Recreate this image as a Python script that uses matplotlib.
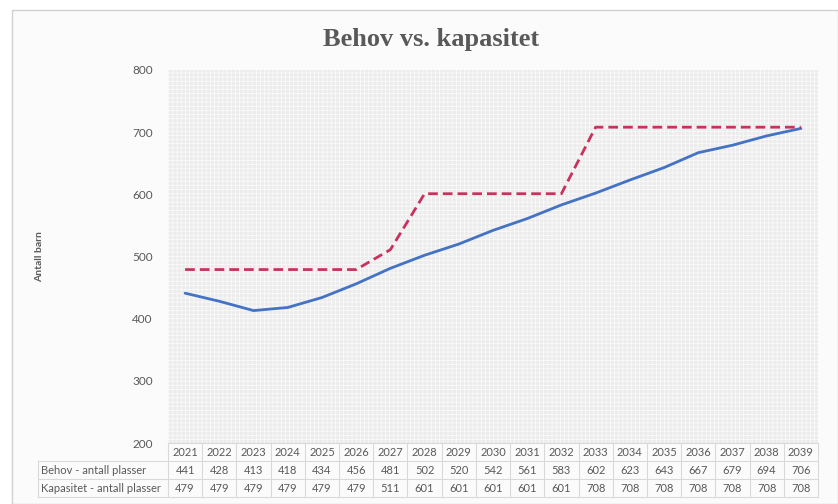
import matplotlib.pyplot as plt
from matplotlib.patches import Rectangle
from matplotlib.lines import Line2D

years = list(range(2021, 2040))
behov = [441, 428, 413, 418, 434, 456, 481, 502, 520, 542, 561, 583, 602, 623, 643, 667, 679, 694, 706]
kapasitet = [479, 479, 479, 479, 479, 479, 511, 601, 601, 601, 601, 601, 708, 708, 708, 708, 708, 708, 708]
row_labels = ["Behov - antall plasser", "Kapasitet - antall plasser"]

TXT = "#595959"
GRID = "#d9d9d9"
plt.rcParams["font.family"] = ["Lato", "DejaVu Sans"]
plt.rcParams["hatch.color"] = "white"
plt.rcParams["hatch.linewidth"] = 0.5

W, H = 838, 504
fig = plt.figure(figsize=(W / 100, H / 100), dpi=100)
fig.patch.set_facecolor("white")

# chart area border
fig.patches.append(Rectangle((12 / W, 0), (W - 12) / W, (H - 10) / H, transform=fig.transFigure,
                             facecolor="#fbfbfb", edgecolor="#d0d0d0", lw=1, zorder=-10))

# plot area in pixels
L, R, T, B = 168, 818, 70, 443
ax = fig.add_axes([L / W, (H - B) / H, (R - L) / W, (B - T) / H])
ax.set_facecolor("#ececec")
ax.add_patch(Rectangle((0, 0), 1, 1, transform=ax.transAxes, facecolor="none",
                       edgecolor="white", hatch="++++", lw=0, alpha=0.8, zorder=0))

x = list(range(len(years)))
ax.plot(x, behov, color="#4472c4", lw=2, zorder=3, solid_capstyle="round")
ax.plot(x, kapasitet, color="#c9325c", lw=2, ls=(0, (3.5, 1.8)), zorder=3)

ax.set_xlim(-0.5, len(years) - 0.5)
ax.set_ylim(200, 800)
ax.set_yticks(range(200, 801, 100))
ax.set_xticks([])
ax.tick_params(axis="y", length=0, labelsize=8.5, colors=TXT, pad=11)
for s in ax.spines.values():
    s.set_visible(False)

ax.set_ylabel("Antall barn", fontsize=7.5, fontweight="bold", color=TXT)
ax.yaxis.set_label_coords((44 - L) / (R - L), 0.5)
fig.text(431 / W, 1 - 40 / H, "Behov vs. kapasitet", ha="center", va="center",
         fontsize=19, fontweight="bold", color=TXT, family=["Liberation Serif", "DejaVu Serif"])

# data table below the plot
rh = 18 / (B - T)          # row height in axes units
lab_x0 = (38 - L) / (R - L)  # left of row label column in axes units
xt = ax.get_xaxis_transform()
rows = [[str(y) for y in years], [str(v) for v in behov], [str(v) for v in kapasitet]]

# horizontal lines
for k in range(4):
    yy = -k * rh
    if k == 0:
        ax.add_line(Line2D([-0.5, len(years) - 0.5], [yy, yy], transform=xt, color=GRID, lw=0.8, clip_on=False))
    else:
        ax.add_line(Line2D([lab_x0, 1], [yy, yy], transform=ax.transAxes, color=GRID, lw=0.8, clip_on=False))
# vertical lines
for i in range(len(years) + 1):
    ax.add_line(Line2D([i - 0.5, i - 0.5], [0, -3 * rh], transform=xt, color=GRID, lw=0.8, clip_on=False))
ax.add_line(Line2D([lab_x0, lab_x0], [-rh, -3 * rh], transform=ax.transAxes, color=GRID, lw=0.8, clip_on=False))

for r, vals in enumerate(rows):
    yc = -(r + 0.5) * rh
    for i, v in enumerate(vals):
        ax.text(i, yc, v, transform=xt, ha="center", va="center", fontsize=8, color=TXT, clip_on=False)
for r, lab in enumerate(row_labels):
    yc = -(r + 1.5) * rh
    ax.text(lab_x0 + 3 / (R - L), yc, lab, transform=ax.transAxes, ha="left", va="center",
            fontsize=8, color=TXT, clip_on=False)

fig.savefig("out.png", dpi=100)
